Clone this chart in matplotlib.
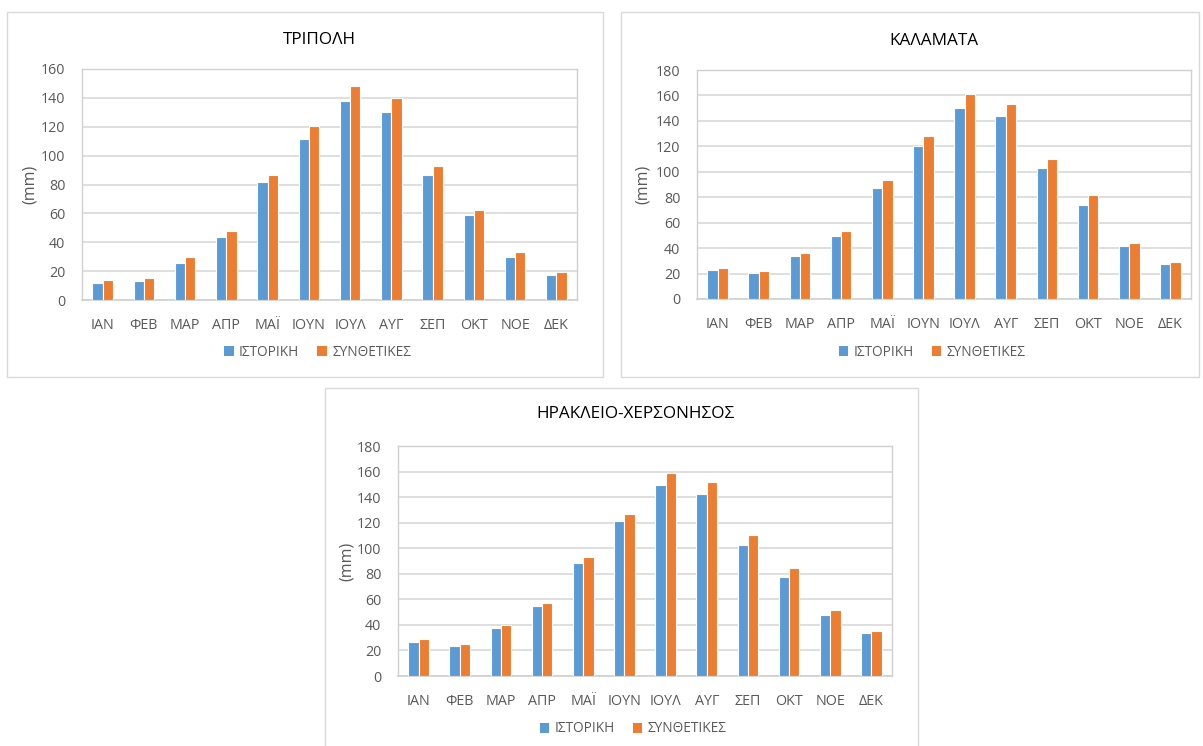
import matplotlib
matplotlib.use("Agg")
import matplotlib.pyplot as plt
from matplotlib.patches import Rectangle
import numpy as np

plt.rcParams['font.family'] = ['Open Sans', 'DejaVu Sans']

months = ['ΙΑΝ', 'ΦΕΒ', 'ΜΑΡ', 'ΑΠΡ', 'ΜΑΪ', 'ΙΟΥΝ', 'ΙΟΥΛ', 'ΑΥΓ', 'ΣΕΠ', 'ΟΚΤ', 'ΝΟΕ', 'ΔΕΚ']
series_names = ['ΙΣΤΟΡΙΚΗ', 'ΣΥΝΘΕΤΙΚΕΣ']

tripoli_hist = [12, 13, 25.5, 43.5, 81.5, 111.5, 137.5, 130.5, 86.5, 58.8, 30, 17]
tripoli_synth = [14, 15.5, 29.8, 47.8, 86.5, 120.3, 148.2, 139.6, 93, 62, 33, 19.3]

kalamata_hist = [22.5, 20.2, 33.9, 49.3, 87.2, 120.4, 150.2, 143.9, 102.6, 74, 41.7, 27.2]
kalamata_synth = [24.2, 21.8, 36.4, 53.4, 93.7, 128.5, 161.5, 153.5, 110.2, 81.4, 44.2, 29]

heraklion_hist = [26.9, 23.7, 37.6, 54.4, 88.2, 121.6, 149.5, 142.2, 102.5, 77.7, 47.7, 33.4]
heraklion_synth = [28.6, 25.3, 39.9, 56.9, 93.1, 126.8, 159.1, 151.8, 110.1, 84.3, 51.7, 35]

BLUE = '#5B9BD5'
ORANGE = '#ED7D31'
GRID = '#D9D9D9'
TEXT = '#595959'

W, H = 1203, 746
fig = plt.figure(figsize=(W / 100, H / 100), dpi=100)
fig.patch.set_facecolor('white')


def px_rect(left, top, right, bottom):
    return [left / W, 1 - bottom / H, (right - left) / W, (bottom - top) / H]


def panel_frame(left, top, right, bottom):
    fig.patches.append(Rectangle((left / W, 1 - bottom / H), (right - left) / W,
                                 (bottom - top) / H, transform=fig.transFigure,
                                 fill=False, edgecolor='#D9D9D9', linewidth=1.0))


def draw_chart(rect, title, hist, synth, ymax, title_y, ylabel_x, legend_y):
    ax = fig.add_axes(px_rect(*rect))
    x = np.arange(len(months))
    w = 0.25
    ax.bar(x - w / 2, hist, w, color=BLUE, edgecolor='white', linewidth=0.8,
           label=series_names[0], zorder=3)
    ax.bar(x + w / 2, synth, w, color=ORANGE, edgecolor='white', linewidth=0.8,
           label=series_names[1], zorder=3)
    ax.set_xlim(-0.5, len(months) - 0.5)
    ax.set_ylim(0, ymax)
    ax.set_yticks(np.arange(0, ymax + 1, 20))
    ax.set_xticks(x)
    ax.set_xticklabels(months)
    ax.yaxis.grid(True, color=GRID, linewidth=1.2, zorder=0)
    ax.set_axisbelow(True)
    for side in ['top', 'right', 'left']:
        ax.spines[side].set_color('#D0D0D0')
        ax.spines[side].set_linewidth(1.0)
    ax.spines['bottom'].set_color('#D0D0D0')
    ax.spines['bottom'].set_linewidth(1.2)
    ax.tick_params(axis='both', length=0, colors=TEXT, labelsize=10.3)
    ax.tick_params(axis='x', pad=13)
    ax.tick_params(axis='y', pad=12)
    left, top, right, bottom = rect
    cx = (left + right) / 2
    fig.text((cx - 10) / W, 1 - title_y / H, title, ha='center', va='center',
             fontsize=12.3, color='#000000')
    fig.text(ylabel_x / W, 1 - (top + bottom) / 2 / H, '(mm)', rotation=90,
             ha='center', va='center', fontsize=11.5, color=TEXT)
    leg = ax.legend(loc='center', bbox_to_anchor=((cx - 12) / W, 1 - legend_y / H),
                    bbox_transform=fig.transFigure, ncol=2, frameon=False,
                    fontsize=9.8, handlelength=0.7, handleheight=0.7,
                    handletextpad=0.4, columnspacing=1.3)
    for t in leg.get_texts():
        t.set_color(TEXT)
    for p in leg.get_patches():
        p.set_edgecolor('none')
    return ax


panel_frame(7, 12, 603, 377)
panel_frame(621, 12, 1199, 377)
panel_frame(325, 388, 918, 760)

draw_chart((82, 69, 577, 300), 'ΤΡΙΠΟΛΗ', tripoli_hist, tripoli_synth, 160,
           40, 30, 352)
draw_chart((697, 70, 1191, 299), 'ΚΑΛΑΜΑΤΑ', kalamata_hist, kalamata_synth, 180,
           41, 643, 352)
draw_chart((398, 446, 892, 676), 'ΗΡΑΚΛΕΙΟ-ΧΕΡΣΟΝΗΣΟΣ', heraklion_hist, heraklion_synth, 180,
           414, 347, 729)

fig.savefig('out.png', dpi=100, facecolor='white')
